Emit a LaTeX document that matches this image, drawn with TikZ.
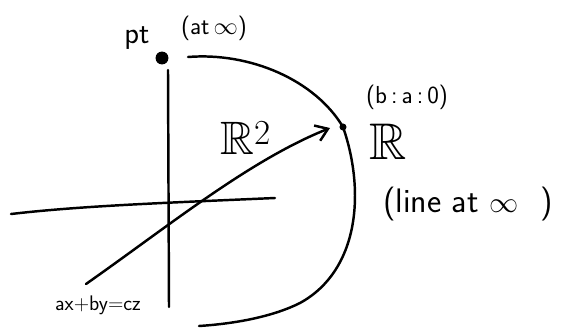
\documentclass[tikz,border=0pt]{standalone}
\usepackage{amssymb}
\usetikzlibrary{arrows.meta}
\newcommand{\handsz}[1]{\fontsize{#1}{#1}\selectfont}
\begin{document}
\begin{tikzpicture}[
    x=0.03cm, y=-0.03cm,
    stroke/.style={line width=2.1pt, line cap=round, line join=round},
    dot/.style={circle, fill, inner sep=0pt, minimum size=#1},
    note/.style={font=\sffamily, inner sep=1pt},
    thick
  ]
  \useasboundingbox (0,0) rectangle (585,330);
  \node[dot=11pt] (P) at (162,58) {};
  \node[dot=6pt] (Q) at (343,127) {};
  \node[note, font=\sffamily\handsz{26}] (pt) at (137,38) {pt};
  \node[note, font=\sffamily\handsz{21}] (atinf) at (214,28) {(at$\,\infty$)};
  \node[note, font=\sffamily\handsz{21}] (baz) at (407,97) {(b\,:\,a\,:\,0)};
  \node[font=\handsz{44}] (R) at (388,142) {$\mathbb{R}$};
  \node[font=\handsz{40}] (R2) at (246,138) {$\mathbb{R}^{\mbox{\handsz{30}2}}$};
  \node[note, font=\sffamily\handsz{29}] (linf) at (468,204) {(line at $\infty$\,\, )};
  \node[note, font=\sffamily\handsz{18}] (eq) at (98,305) {ax+by=cz};
  \coordinate (vt) at (168,70);
  \coordinate (vb) at (169,307);
  \coordinate (hl) at (11,214);
  \coordinate (hr) at (275,198);
  \coordinate (ls) at (86,284);
  \coordinate (le) at (330,128);
  \coordinate (cs) at (188,57);
  \coordinate (ce) at (199,326);
  \draw[stroke] (vt) -- (vb);
  \draw[stroke] (hl) .. controls (80,206) and (160,203) .. (hr);
  \draw[stroke, -{Straight Barb[length=10pt, width=14pt]}] (ls) .. controls (170,225) and (250,160) .. (le);
  \draw[stroke] (cs) .. controls (250,52) and (315,80) .. (Q.center)
    .. controls (365,190) and (360,270) .. (300,303)
    .. controls (270,318) and (230,324) .. (ce);
\end{tikzpicture}
\end{document}
